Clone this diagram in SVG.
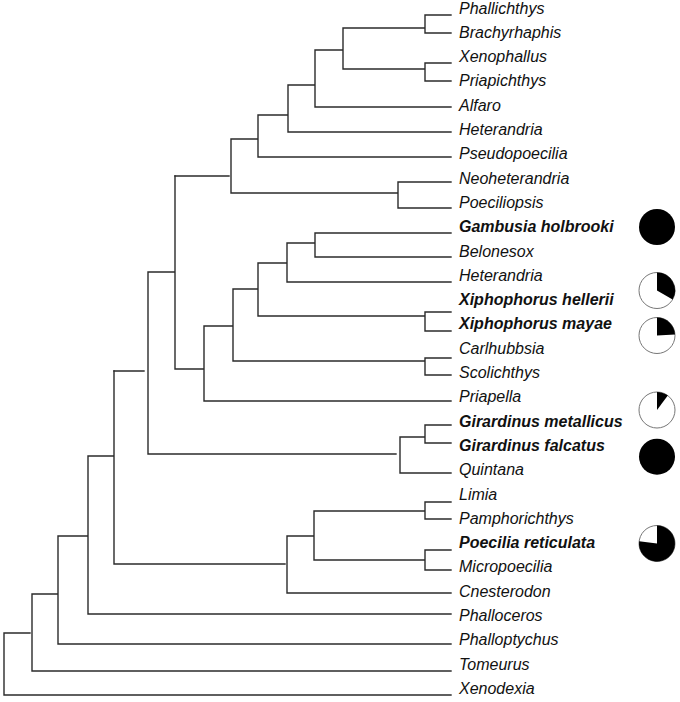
<svg xmlns="http://www.w3.org/2000/svg" width="680" height="702" viewBox="0 0 680 702">
<style>
.br{fill:none;stroke:#2b2b2b;stroke-width:1.4;stroke-linecap:square}
.tx{font-family:"Liberation Sans",Arial,sans-serif;font-style:italic;font-size:16px;fill:#111}
.b{font-weight:bold}
.pw{fill:#fff;stroke:#777;stroke-width:1}
.pk{fill:#000}
</style>
<rect width="680" height="702" fill="#fff"/>
<g id="connectors" class="br">
<path d="M425,15V33M425,15H451M425,33H451M343,28H425M425,63V81M425,63H451M425,81H451M343,69H425M343,28V69M315,50H343M315,107H451M315,50V107M288,85H315M288,132H451M288,85V132M258,115H288M258,157H451M258,115V157M231,139H258M398,182V208M398,182H451M398,208H451M231,193H398M231,139V193M175,176H229"/>
<path d="M315,233H451M315,257H451M315,233V257M287,243H315M287,282H451M287,243V282M258,263H287M425,312V331M425,312H451M425,331H451M258,316H425M258,263V316M233,289H258M425,358V375M425,358H451M425,375H451M233,361H425M233,289V361M204,326H233M204,401H451M204,326V401M175,369H204M175,176V369M148,272H175M425,425V443M425,425H451M425,443H451M400,437H425M400,473H451M400,437V473M148,454H396M148,272V454M114,371H144"/>
<path d="M425,502V519M425,502H451M425,519H451M314,511H425M425,550V570M425,550H451M425,570H451M314,560H425M314,511V560M287,536H314M287,593H451M287,536V593M114,564H285M114,371V564M88,456H114M88,614H451M88,456V614M58,536H88M58,644H451M58,536V644M32,594H58M32,671H451M32,594V671M4,633H30M4,695H451M4,633V695"/>
</g>
<g id="leaf-phallichthys"><text class="tx" x="459" y="13.5">Phallichthys</text></g>
<g id="leaf-brachyrhaphis"><text class="tx" x="459" y="37.8">Brachyrhaphis</text></g>
<g id="leaf-xenophallus"><text class="tx" x="459" y="62.1">Xenophallus</text></g>
<g id="leaf-priapichthys"><text class="tx" x="459" y="86.4">Priapichthys</text></g>
<g id="leaf-alfaro"><text class="tx" x="459" y="110.7">Alfaro</text></g>
<g id="leaf-heterandria-1"><text class="tx" x="459" y="135">Heterandria</text></g>
<g id="leaf-pseudopoecilia"><text class="tx" x="459" y="159.3">Pseudopoecilia</text></g>
<g id="leaf-neoheterandria"><text class="tx" x="459" y="183.6">Neoheterandria</text></g>
<g id="leaf-poeciliopsis"><text class="tx" x="459" y="207.9">Poeciliopsis</text></g>
<g id="leaf-gambusia"><text class="tx b" x="459" y="232.2">Gambusia holbrooki</text></g>
<g id="leaf-belonesox"><text class="tx" x="459" y="256.5">Belonesox</text></g>
<g id="leaf-heterandria-2"><text class="tx" x="459" y="280.8">Heterandria</text></g>
<g id="leaf-x-hellerii"><text class="tx b" x="459" y="305.1">Xiphophorus hellerii</text></g>
<g id="leaf-x-mayae"><text class="tx b" x="459" y="329.4">Xiphophorus mayae</text></g>
<g id="leaf-carlhubbsia"><text class="tx" x="459" y="353.7">Carlhubbsia</text></g>
<g id="leaf-scolichthys"><text class="tx" x="459" y="378">Scolichthys</text></g>
<g id="leaf-priapella"><text class="tx" x="459" y="402.3">Priapella</text></g>
<g id="leaf-g-metallicus"><text class="tx b" x="459" y="426.6">Girardinus metallicus</text></g>
<g id="leaf-g-falcatus"><text class="tx b" x="459" y="450.9">Girardinus falcatus</text></g>
<g id="leaf-quintana"><text class="tx" x="459" y="475.2">Quintana</text></g>
<g id="leaf-limia"><text class="tx" x="459" y="499.5">Limia</text></g>
<g id="leaf-pamphorichthys"><text class="tx" x="459" y="523.8">Pamphorichthys</text></g>
<g id="leaf-poecilia"><text class="tx b" x="459" y="548.1">Poecilia reticulata</text></g>
<g id="leaf-micropoecilia"><text class="tx" x="459" y="572.4">Micropoecilia</text></g>
<g id="leaf-cnesterodon"><text class="tx" x="459" y="596.7">Cnesterodon</text></g>
<g id="leaf-phalloceros"><text class="tx" x="459" y="621">Phalloceros</text></g>
<g id="leaf-phalloptychus"><text class="tx" x="459" y="645.3">Phalloptychus</text></g>
<g id="leaf-tomeurus"><text class="tx" x="459" y="669.6">Tomeurus</text></g>
<g id="leaf-xenodexia"><text class="tx" x="459" y="693.9">Xenodexia</text></g>
<g id="pie-gambusia"><circle class="pk" cx="657" cy="227" r="18"/></g>
<g id="pie-x-hellerii"><circle class="pw" cx="657" cy="290.5" r="18"/><path class="pk" d="M657,290.5V272.5A18,18 0 0 1 672.6,299.5Z"/></g>
<g id="pie-x-mayae"><circle class="pw" cx="657" cy="335.5" r="18"/><path class="pk" d="M657,335.5V317.5A18,18 0 0 1 675,334.6Z"/></g>
<g id="pie-g-metallicus"><circle class="pw" cx="657" cy="410" r="18"/><path class="pk" d="M657,410V392A18,18 0 0 1 667.8,395.6Z"/></g>
<g id="pie-g-falcatus"><circle class="pk" cx="657" cy="456.7" r="18"/></g>
<g id="pie-poecilia"><circle class="pw" cx="657" cy="543.5" r="18"/><path class="pk" d="M657,543.5V525.5A18,18 0 1 1 639.1,541.3Z"/></g>
</svg>
